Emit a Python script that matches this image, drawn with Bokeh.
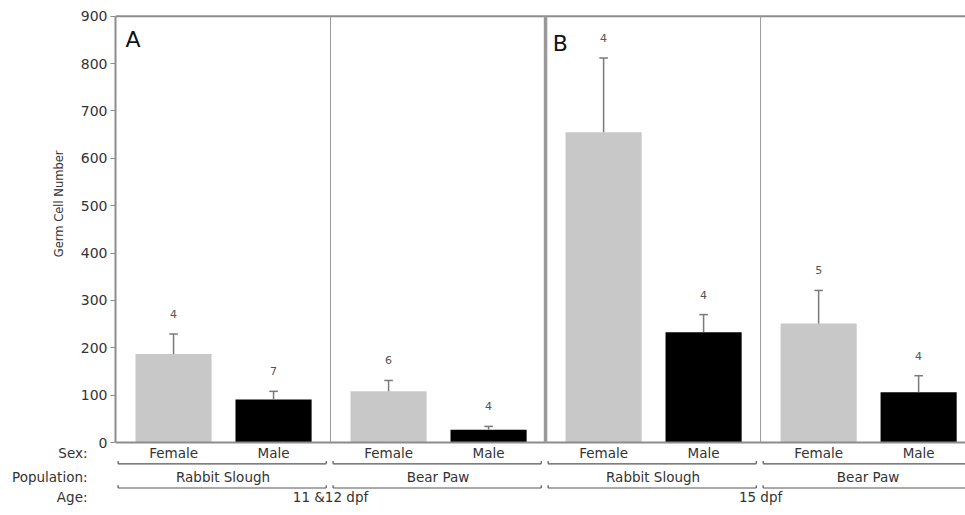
from bokeh.plotting import figure
from bokeh.models import Range1d, FixedTicker, LinearAxis, ColumnDataSource, Title
from bokeh.core.properties import value
from bokeh.embed import file_html
from bokeh.resources import INLINE

# ---------------- data ----------------
ages = ["11 &12 dpf", "15 dpf"]
populations = ["Rabbit Slough", "Bear Paw", "Rabbit Slough", "Bear Paw"]
sexes = ["Female", "Male"]
female_mean = [187, 108, 655, 251]
female_se = [42, 23, 157, 70]
female_n = [4, 6, 4, 5]
male_mean = [91, 27, 233, 106]
male_se = [17, 7, 37, 35]
male_n = [7, 4, 4, 4]
panel_letters = ["A", "B"]
y_ticks = [0, 100, 200, 300, 400, 500, 600, 700, 800, 900]
row_titles = ["Sex:", "Population:", "Age:"]
y_title = "Germ Cell Number"

# ---------------- layout helpers ----------------
FONT = "DejaVu Sans"
GRID = "#8c8c8c"
TXT = "#333333"
sex_offset = {"Female": 0.27, "Male": 0.735}
bar_w = 0.354
px_per_unit = 0.4737  # vertical px per data unit
y_top, y_bot = 907.8, -154.1
x_end = 3.953
sex_y, pop_y, age_y = -23, -73, -116
br1, br2, hook = -45, -96, 6

p = figure(width=965, height=515, output_backend="svg", toolbar_location=None,
           x_range=Range1d(0, x_end), y_range=Range1d(y_bot, y_top),
           min_border_left=115, min_border_right=0, min_border_top=12, min_border_bottom=0)
p.outline_line_color = None
p.xgrid.visible = False
p.ygrid.visible = False
p.xaxis.visible = False
p.background_fill_color = "white"
p.border_fill_color = "white"

ya = p.yaxis[0]
ya.bounds = (0, 900)
ya.ticker = FixedTicker(ticks=y_ticks)
ya.axis_line_color = GRID
ya.axis_line_width = 2
ya.major_tick_line_color = GRID
ya.major_tick_out = 5
ya.major_tick_in = 0
ya.minor_tick_line_color = None
ya.major_label_text_font = FONT
ya.major_label_text_font_size = "14px"
ya.major_label_text_color = TXT
ya.major_label_standoff = 3

# y title between the numeric axis and the row-title axis
ytitle = Title(text=y_title, align="right", offset=138, standoff=23,
               text_font=FONT, text_font_size="11.5px", text_font_style="normal",
               text_color=TXT)
p.add_layout(ytitle, "left")

# row titles as an outer left axis
row_axis = LinearAxis(ticker=FixedTicker(ticks=[sex_y, pop_y, age_y]),
                      major_label_overrides={sex_y: row_titles[0], pop_y: row_titles[1],
                                             age_y: row_titles[2]},
                      axis_line_color=None, major_tick_line_color=None, minor_tick_line_color=None,
                      major_tick_out=0, major_tick_in=0, major_label_standoff=-49,
                      major_label_text_font=FONT, major_label_text_font_size="13.5px",
                      major_label_text_color=TXT)
p.add_layout(row_axis, "left")

# bars
groups = list(range(len(populations)))
xs, tops, ses, ns, colors = [], [], [], [], []
for g in groups:
    for s, mean, se, n, c in (("Female", female_mean[g], female_se[g], female_n[g], "#c8c8c8"),
                              ("Male", male_mean[g], male_se[g], male_n[g], "#000000")):
        xs.append(g + sex_offset[s])
        tops.append(mean)
        ses.append(se)
        ns.append(str(n))
        colors.append(c)

src = ColumnDataSource(dict(x=xs, top=tops, se=ses, n=ns, color=colors,
                            up=[t + e for t, e in zip(tops, ses)],
                            nlab=[t + e + 20 / px_per_unit for t, e in zip(tops, ses)]))
p.vbar(x="x", top="top", bottom=0, width=bar_w, fill_color="color", line_color=None, source=src)
p.segment(x0="x", y0="top", x1="x", y1="up", line_color="#7a7a7a", line_width=1.5, source=src)
cap = 0.02
p.segment(x0=[x - cap for x in xs], y0=src.data["up"], x1=[x + cap for x in xs], y1=src.data["up"],
          line_color="#7a7a7a", line_width=1.5)
p.text(x="x", y="nlab", text="n", source=src, text_font=value(FONT), text_font_size="11px",
       text_color="#555555", text_align="center", text_baseline="middle")

# frame lines
p.segment(x0=[0], y0=[900], x1=[x_end], y1=[900], line_color=GRID, line_width=2)
p.segment(x0=[0], y0=[0], x1=[x_end], y1=[0], line_color=GRID, line_width=2)
p.segment(x0=[1, 3], y0=[0, 0], x1=[1, 3], y1=[900, 900], line_color="#999999", line_width=1)
p.segment(x0=[2], y0=[0], x1=[2], y1=[900], line_color="#999999", line_width=3.5)

# panel letters
p.text(x=[0.047, 2.033], y=[851, 842], text=panel_letters, text_font=value(FONT),
       text_font_size="22px", text_color="#111111", text_align="left", text_baseline="middle")

# category labels
sx_x, sx_t = [], []
for g in groups:
    for s in sexes:
        sx_x.append(g + sex_offset[s])
        sx_t.append(s)
p.text(x=sx_x, y=[sex_y] * len(sx_x), text=sx_t, text_font=value(FONT), text_font_size="13.5px",
       text_color=TXT, text_align="center", text_baseline="middle")
p.text(x=[g + 0.5 for g in groups], y=[pop_y] * len(groups), text=populations, text_font=value(FONT),
       text_font_size="13.5px", text_color=TXT, text_align="center", text_baseline="middle")
p.text(x=[1, 3], y=[age_y] * 2, text=ages, text_font=value(FONT), text_font_size="13.5px",
       text_color=TXT, text_align="center", text_baseline="middle")

bx0 = [g + 0.012 for g in groups]
bx1 = [g + 0.98 for g in groups]
for by in (br1, br2):
    p.segment(x0=bx0, y0=[by] * 4, x1=bx1, y1=[by] * 4, line_color="#555555", line_width=1.2)
    p.segment(x0=bx0 + bx1, y0=[by] * 8, x1=bx0 + bx1, y1=[by + hook] * 8,
              line_color="#555555", line_width=1.2)

open("out.html", "w").write(file_html(p, INLINE))
